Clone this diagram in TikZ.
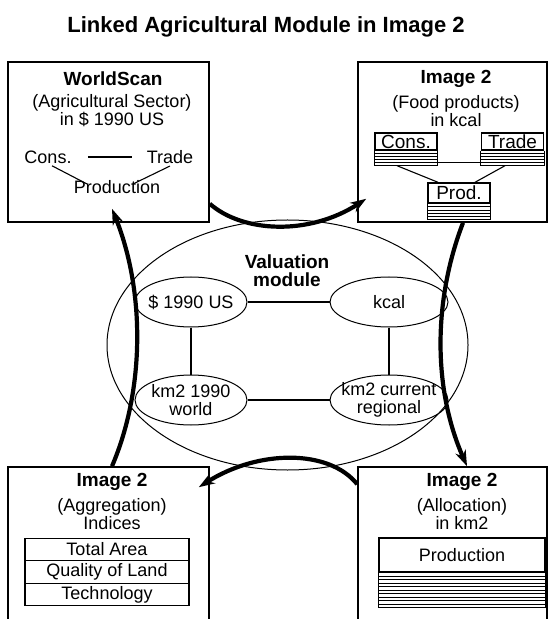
\documentclass[tikz,border=0pt]{standalone}
\usepackage{fontspec}
\setmainfont{Liberation Sans}
\usetikzlibrary{shapes.geometric,arrows.meta,calc}

% stack of ruled lines under a table node
\newcommand{\hatchrows}[3]{%
  \foreach \k in {1,...,#2}
    \draw[hatch] ([yshift=-\k*#3]#1.south west) -- ([yshift=-\k*#3]#1.south east);
  \draw[hatch] (#1.south west) -- ([yshift=-#2*#3]#1.south west);
  \draw[hatch] (#1.south east) -- ([yshift=-#2*#3]#1.south east);
}

\begin{document}
\begin{tikzpicture}[x=0.5pt,y=-0.5pt,
    every node/.style={font=\fontsize{9}{9}\selectfont},
    panel/.style={draw,line width=0.8pt,inner sep=0pt},
    head/.style={font=\bfseries\fontsize{9.5}{9.5}\selectfont},
    sub/.style={align=center},
    unit/.style={draw,ellipse,line width=0.5pt,minimum width=56pt,minimum height=25pt,inner xsep=-4pt,inner ysep=-1pt,align=center},
    minitab/.style={draw,line width=0.7pt,minimum width=31pt,minimum height=8.5pt,inner sep=0pt,font=\fontsize{9.5}{9.5}\selectfont},
    row/.style={draw,line width=0.6pt,minimum width=82pt,minimum height=11.25pt,inner sep=0pt},
    hatch/.style={line width=0.55pt},
    link/.style={line width=0.55pt},
    flow/.style={line width=2.1pt,-{Stealth[length=8pt,width=5.5pt]}}]
    \useasboundingbox (0,0) rectangle (550,619);
    \clip (0,0) rectangle (550,619);

    \node[font=\bfseries\fontsize{11}{11}\selectfont] (title) at (266,27) {Linked Agricultural Module in Image 2};

    % the four models
    \node[panel,minimum width=100.5pt,minimum height=80pt] (worldscan) at (108.5,142) {};
    \node[panel,minimum width=94.5pt,minimum height=80pt] (foodbox) at (452.5,142) {};
    \node[panel,minimum width=100.5pt,minimum height=81.5pt] (aggbox) at (108.5,548.5) {};
    \node[panel,minimum width=94.5pt,minimum height=81.5pt] (allocbox) at (452.5,548.5) {};

    \node[head] (wsname) at (113,79) {WorldScan};
    \node[sub] (wssub) at (112,111) {(Agricultural Sector)\\in \$ 1990 US};
    \node[head] (foodname) at (456,79) {Image 2};
    \node[sub] (foodsub) at (456,111) {(Food products)\\in kcal};
    \node[head] (aggname) at (112,482) {Image 2};
    \node[sub] (aggsub) at (112,514) {(Aggregation)\\Indices};
    \node[head] (allocname) at (462,482) {Image 2};
    \node[sub] (allocsub) at (462,514) {(Allocation)\\in km2};

    % WorldScan sector
    \node[inner sep=1pt] (cons) at (48,157) {Cons.};
    \node[inner sep=1pt] (trade) at (170,157) {Trade};
    \node[inner sep=1pt] (prod) at (117,187) {Production};
    \draw[link,shorten <=7pt,shorten >=6pt] (cons) -- (trade);
    \draw[link] ([xshift=2pt]cons.south) -- ($(prod.north)+(-30,6)$);
    \draw[link] (trade.south) -- ($(prod.north)+(16,6)$);

    % food products tables
    \node[minitab] (kcons) at (406,141.5) {Cons.};
    \node[minitab] (ktrade) at (512.5,141.5) {Trade};
    \node[minitab,minimum height=10pt] (kprod) at (459,193) {Prod.};
    \hatchrows{kcons}{5}{1.5pt}
    \hatchrows{ktrade}{5}{1.5pt}
    \hatchrows{kprod}{5}{1.6pt}
    \draw[link] ([yshift=-6pt]kcons.south east) -- ([yshift=-6pt]ktrade.south west);
    \draw[link] ([xshift=-4.5pt,yshift=-7.5pt]kcons.south) -- ([xshift=-10.5pt]kprod.north);
    \draw[link] ([xshift=-3.75pt,yshift=-7.5pt]ktrade.south) -- ([xshift=8pt]kprod.north);

    % indices
    \node[row] (area) at (107,549.5) {Total Area};
    \node[row] (quality) at (107,572) {Quality of Land};
    \node[row] (tech) at (107,594.5) {Technology};

    % allocation
    \node[row,minimum width=83pt,minimum height=17pt] (allocprod) at (462,555) {Production};
    \hatchrows{allocprod}{10}{1.75pt}

    % valuation module
    \node[draw,ellipse,line width=0.5pt,minimum width=180.5pt,minimum height=125pt,inner sep=0pt] (valuation) at (287.5,345) {};
    \node[head,font=\bfseries\fontsize{9.5}{9}\selectfont,align=center] (valtitle) at (287,271) {Valuation\\module};
    \node[unit] (usd) at (191,302) {\$ 1990 US};
    \node[unit,minimum width=59pt] (kcal) at (389,302) {kcal};
    \node[unit] (kmworld) at (191,400) {km2 1990\\world};
    \node[unit,minimum width=59pt] (kmregional) at (389,400) {km2 current\\regional};
    \draw[link] (usd) -- (kcal);
    \draw[link] (usd) -- (kmworld);
    \draw[link] (kcal) -- (kmregional);
    \draw[link] (kmworld) -- (kmregional);

    % links between the models
    \draw[flow] ([yshift=9.5pt]worldscan.south east) .. controls +(33,29) and +(-57,37) .. ([xshift=4.5pt,yshift=12pt]foodbox.south west);
    \draw[flow] ([xshift=5.25pt]foodbox.south) .. controls +(-30,78) and +(-34,-77) .. ([xshift=7.25pt]allocbox.north);
    \draw[flow] ([yshift=-9pt]allocbox.north west) .. controls +(-28,-35) and +(60,-38) .. ([xshift=-5.5pt,yshift=-10.5pt]aggbox.north east);
    \draw[flow] ([xshift=1.75pt]aggbox.north) .. controls +(33,-77) and +(33,82) .. ([xshift=1.75pt,yshift=7pt]worldscan.south);
\end{tikzpicture}
\end{document}
